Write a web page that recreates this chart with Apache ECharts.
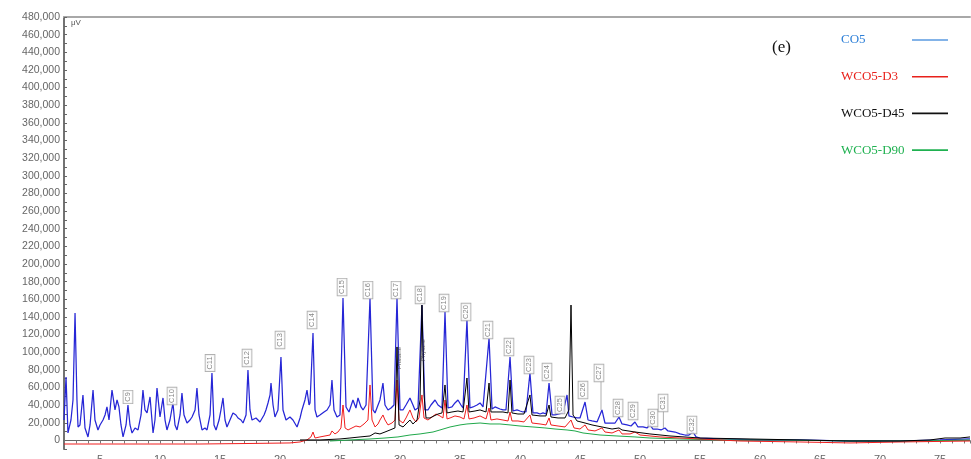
<!DOCTYPE html>
<html>
<head>
<meta charset="utf-8">
<script src="https://cdn.jsdelivr.net/npm/echarts@6/dist/echarts.min.js"></script>
<style>html,body{margin:0;padding:0;background:#fff;overflow:hidden}#c{width:971px;height:459px}</style>
</head>
<body>
<div id="c"></div>
<script>
// ---- DATA (retention time in min, signal in uV) ----
const coTime = [2.0,2.17,2.33,2.58,2.75,2.92,3.08,3.17,3.33,3.58,3.75,4.0,4.17,4.42,4.58,4.83,5.0,5.25,5.42,5.58,5.75,6.0,6.25,6.42,6.58,6.75,6.92,7.17,7.33,7.5,7.67,7.92,8.17,8.42,8.58,8.75,8.92,9.17,9.42,9.58,9.75,10.0,10.25,10.42,10.58,10.83,11.08,11.25,11.42,11.67,11.83,12.0,12.25,12.5,12.67,12.92,13.08,13.25,13.5,13.75,13.92,14.17,14.33,14.5,14.67,14.92,15.08,15.25,15.42,15.58,15.83,16.08,16.33,16.5,16.75,16.92,17.17,17.33,17.5,17.67,18.0,18.33,18.67,18.83,19.0,19.17,19.25,19.42,19.58,19.83,20.08,20.25,20.5,20.83,21.08,21.42,21.67,21.83,22.08,22.25,22.42,22.5,22.75,22.92,23.08,23.33,23.67,23.92,24.17,24.33,24.5,24.75,25.0,25.25,25.5,25.75,26.08,26.33,26.5,26.75,26.92,27.17,27.5,27.75,27.92,28.17,28.33,28.58,28.75,29.0,29.25,29.5,29.75,30.0,30.25,30.5,30.83,31.08,31.25,31.5,31.83,32.08,32.33,32.58,32.92,33.17,33.33,33.5,33.75,34.0,34.33,34.58,34.83,35.08,35.25,35.58,35.83,36.08,36.42,36.67,36.92,37.08,37.42,37.67,37.92,38.08,38.33,38.58,38.83,39.17,39.42,39.75,40.0,40.25,40.5,40.83,41.08,41.42,41.67,41.92,42.17,42.42,42.67,42.92,43.25,43.58,43.92,44.08,44.42,44.75,45.0,45.42,45.67,46.0,46.42,46.83,47.08,47.5,47.92,48.25,48.5,48.92,49.25,49.58,49.83,50.25,50.58,50.83,51.08,51.42,51.75,52.08,52.33,52.92,53.33,53.75,54.08,54.42,54.67,55.0,56.67,60.0,63.33,67.5,71.67,75.0,77.5];
const coValue = [23200,72000,8500,23200,45900,144500,45900,15300,17600,51600,14200,4000,17600,57200,23200,11900,17600,23200,28900,38000,23200,57200,34600,45900,38000,17600,4000,17600,40200,17600,8500,14200,11900,28900,57200,34600,31200,49300,8500,23200,59500,26600,48200,23200,11900,23200,42500,17600,11900,28900,53800,28900,19800,23200,26600,34600,59500,28900,11900,14200,11900,28900,76500,17600,11900,23200,34600,48200,23200,15300,23200,31200,28900,25500,23200,19800,28900,79900,34600,23200,25500,21000,28900,34600,42500,51600,65100,40200,26600,34600,94600,34600,23200,26600,23200,15300,25500,34600,45900,57200,40200,42500,121800,34600,26600,28900,32300,34600,40200,68500,34600,26600,28900,161500,38000,32300,45900,36800,48200,38000,34600,40200,161500,34600,31200,40200,45900,65100,40200,34600,36800,40200,161500,34600,34600,40200,48200,40200,34600,36800,153500,34600,34600,40200,45900,40200,38000,36800,145600,36800,38000,42500,45900,40200,36800,136500,36800,38000,40200,42500,38000,36800,116100,35700,38000,38000,35700,34600,34600,94600,33400,34600,33400,32300,32300,76500,31200,31200,30000,31200,30000,65100,28900,28900,30000,31200,51600,27800,26600,25500,25500,43600,23200,22100,21000,34600,19800,19800,19800,26600,18700,17600,16400,21000,15300,15300,14200,17600,13000,13000,11900,14200,10800,9600,7400,6200,6200,9600,4000,2800,1700,600,600,-600,-600,600,1700];

const d3Time = [2.0,5.0,9.17,13.33,17.5,20.83,21.67,22.25,22.58,22.75,22.92,23.33,23.75,24.17,24.33,24.58,24.83,25.08,25.25,25.42,25.67,26.0,26.33,26.67,27.0,27.33,27.5,27.67,27.92,28.17,28.33,28.58,28.75,29.0,29.33,29.58,29.75,29.92,30.25,30.5,30.83,31.08,31.33,31.58,31.83,32.0,32.33,32.67,33.0,33.33,33.58,33.75,33.92,34.17,34.58,35.0,35.33,35.58,35.75,36.17,36.67,37.17,37.42,37.58,38.08,38.58,39.0,39.17,39.33,39.83,40.33,40.83,41.0,41.67,42.17,42.42,42.58,43.17,43.75,44.25,44.5,45.0,45.42,45.67,46.25,46.83,47.08,47.67,48.25,48.5,49.17,49.58,50.0,50.83,51.67,53.33,55.0,58.33,63.33,67.5,71.67,77.5];
const d3Value = [-4000,-4000,-4000,-4000,-3400,-2800,-1700,600,4000,9600,2800,4000,5100,6200,10800,7400,9600,14200,40200,14200,11900,14200,16400,15300,18700,23200,62900,23200,15300,18700,23200,28900,23200,17600,19800,23200,68500,23200,19800,25500,34600,25500,21000,25500,51600,25500,23200,26600,30000,27800,25500,45900,24400,25500,27800,26600,24400,40200,24400,25500,27800,24400,36800,23200,24400,23200,22100,32300,22100,22100,21000,28900,19800,18700,17600,25500,17600,16400,15300,23200,14200,13000,17600,11900,10800,14200,9600,8500,11900,7400,7400,9600,6200,5100,4000,2800,1700,-600,-1700,-2800,-1700,-600];

const d45Time = [21.67,23.33,25.0,25.83,26.67,27.5,27.92,28.33,28.75,29.17,29.58,29.75,29.92,30.25,30.5,30.83,31.08,31.42,31.67,31.83,32.0,32.17,32.5,32.83,33.17,33.5,33.75,33.92,34.33,34.83,35.25,35.58,35.75,36.25,36.67,37.17,37.42,37.58,38.08,38.58,39.0,39.17,39.33,39.83,40.33,40.83,41.0,41.67,42.17,42.42,42.58,43.17,43.75,44.08,44.25,44.42,44.75,45.42,46.0,46.83,47.67,48.25,48.5,49.58,50.83,52.5,55.0,59.17,63.33,67.5,71.67,74.17,75.42,76.67,77.5];
const d45Value = [600,600,1700,2800,4000,5100,8500,7400,9600,11900,14200,106000,17600,15300,18700,23200,18700,23200,45900,153500,51600,25500,25500,27800,30000,31200,62900,31200,32300,33400,32300,70800,32300,33400,34600,32300,65100,32300,32300,32300,31200,68500,31200,30000,30000,51600,28900,27800,27800,40200,26600,25500,25500,34600,153500,28900,22100,19800,17600,15300,13000,14200,11900,9600,7400,5100,2800,1700,600,-600,-600,600,2800,2800,4000];

const d90Time = [24.17,25.83,27.5,28.75,29.83,30.83,31.67,32.75,33.33,34.17,35.0,35.58,36.67,37.5,38.33,39.17,40.0,41.08,42.08,42.92,43.92,44.58,45.25,46.67,48.08,49.58,50.83,53.33,56.67,61.67,67.5,73.33,77.5];
const d90Value = [-600,600,1700,2800,4000,6200,7400,9600,11900,15300,17600,18700,19800,18700,18700,17600,16400,15300,14200,13000,11900,10800,8500,6200,5100,4000,2800,1700,600,600,-600,-600,600];

// peak annotations (n-alkanes)
const peakLabels = ['C9','C10','C11','C12','C13','C14','C15','C16','C17','C18','C19','C20','C21','C22','C23','C24','C25','C26','C27','C28','C29','C30','C31','C32'];
const peakLabelTime = [7.33,11.0,14.17,17.25,20.0,22.67,25.17,27.33,29.67,31.67,33.67,35.5,37.33,39.08,40.75,42.25,43.33,45.25,46.58,48.17,49.42,51.08,51.92,54.33];
const peakLabelValue = [49300,50400,87800,93500,113900,136500,173900,170500,170500,164900,155800,145600,125200,105900,85500,77600,40200,57200,76500,36800,33400,25500,42500,17600];
// leader lines from label to peak
const leaderTime = [46.75,51.95];
const leaderFrom = [34600,14200];
const leaderTo = [67400,33400];
// compound labels on the WCO5-D45 trace
const extraLabels = ['Pristane','Phytane'];
const extraTime = [29.92,31.95];
const extraValue = [93500,102500];

const seriesNames = ['CO5','WCO5-D3','WCO5-D45','WCO5-D90'];
const xTicks = [5,10,15,20,25,30,35,40,45,50,55,60,65,70,75];

// ---- CHART ----
const zip = (a,b) => a.map((t,i)=>[t,b[i]]);
const el = document.getElementById('c');
const chart = echarts.init(el, null, {renderer:'canvas'});

const lineSeries = (name, data, color, w) => ({
  name, type:'line', data, showSymbol:false, symbol:'none',
  lineStyle:{color, width:w}, itemStyle:{color}, animation:false, silent:true
});

const series = [
  lineSeries('CO5', zip(coTime, coValue), '#2626d6', 1.25),
  lineSeries('WCO5-D90', zip(d90Time, d90Value), '#1fa84a', 1),
  lineSeries('WCO5-D3', zip(d3Time, d3Value), '#f01e1e', 1),
  lineSeries('WCO5-D45', zip(d45Time, d45Value), '#000000', 1),
];
leaderTime.forEach((t,i)=>{
  series.push({type:'line', data:[[t,leaderFrom[i]],[t,leaderTo[i]]], symbol:'none', showSymbol:false,
    lineStyle:{color:'#999', width:0.8}, animation:false, silent:true});
});
series.push({
  type:'scatter', symbolSize:1, itemStyle:{color:'rgba(0,0,0,0)'}, animation:false, silent:true, z:10,
  data: peakLabelTime.map((t,i)=>({value:[t, peakLabelValue[i]], name:peakLabels[i]})),
  label:{show:true, formatter:'{b}', rotate:90, position:'inside', fontSize:7.5, fontFamily:'Liberation Sans',
    color:'#666', borderColor:'#999', borderWidth:0.8, padding:[1,1.5,0,1.5], backgroundColor:'#fff'}
});
series.push({
  type:'scatter', symbolSize:1, itemStyle:{color:'rgba(0,0,0,0)'}, animation:false, silent:true, z:10,
  data: extraTime.map((t,i)=>({value:[t, extraValue[i]], name:extraLabels[i]})),
  label:{show:true, formatter:'{b}', rotate:90, position:'inside', fontSize:6, fontFamily:'Liberation Sans',
    color:'#333'}
});

const option = {
  backgroundColor:'#fff',
  animation:false,
  title:{text:'(e)', left:767, top:34, textStyle:{fontFamily:'Liberation Serif', fontSize:17, fontWeight:'normal', color:'#111'}},
  legend:{
    orient:'vertical', left:836, top:28, align:'right', icon:'rect', itemWidth:36, itemHeight:1.6, itemGap:22.7,
    formatter:(name)=>'{a|' + name + '}',
    textStyle:{fontFamily:'Liberation Serif', fontSize:13, lineHeight:14,
      rich:{a:{width:66, align:'left', fontFamily:'Liberation Serif', fontSize:13}}},
    data:[
      {name:'CO5', textStyle:{color:'#2f80d8'}, itemStyle:{color:'#5a9ae0'}},
      {name:'WCO5-D3', textStyle:{color:'#e8211b'}, itemStyle:{color:'#e8211b'}},
      {name:'WCO5-D45', textStyle:{color:'#111'}, itemStyle:{color:'#111'}},
      {name:'WCO5-D90', textStyle:{color:'#1fb150'}, itemStyle:{color:'#1fb150'}}
    ]
  },
  grid:{left:64, right:1, top:17, bottom:9.7, containLabel:false, outerBoundsMode:'none'},
  xAxis:[{
    type:'value', min:2, max:77.5, interval:1,
    axisLine:{show:true, lineStyle:{color:'#666', width:1}},
    axisTick:{show:true, length:3, lineStyle:{color:'#777'}},
    axisLabel:{margin:5, fontSize:11, fontFamily:'Liberation Sans', color:'#666',
      formatter:(v)=> xTicks.indexOf(Math.round(v*100)/100) >= 0 ? String(v) : ''},
    splitLine:{show:false}
  },{
    type:'value', position:'top', min:2, max:77.5,
    axisLine:{show:true, lineStyle:{color:'#a8a8a8', width:2}},
    axisTick:{show:false}, axisLabel:{show:false}, splitLine:{show:false}
  }],
  yAxis:{
    type:'value', min:-10000, max:480000, interval:10000,
    axisLine:{show:true, lineStyle:{color:'#444', width:1.5}},
    axisTick:{show:true, inside:true, length:3, lineStyle:{color:'#666'}},
    axisLabel:{margin:4, fontSize:10.5, fontFamily:'Liberation Sans', color:'#666',
      formatter:(v)=> (v>=0 && v%20000===0) ? v.toLocaleString('en-US') : ''},
    splitLine:{show:false}
  },
  graphic:[{type:'text', left:71, top:19, style:{text:'\u03bcV', font:'8px Liberation Sans', fill:'#555'}}],
  series
};
chart.setOption(option);
</script>
</body>
</html>
